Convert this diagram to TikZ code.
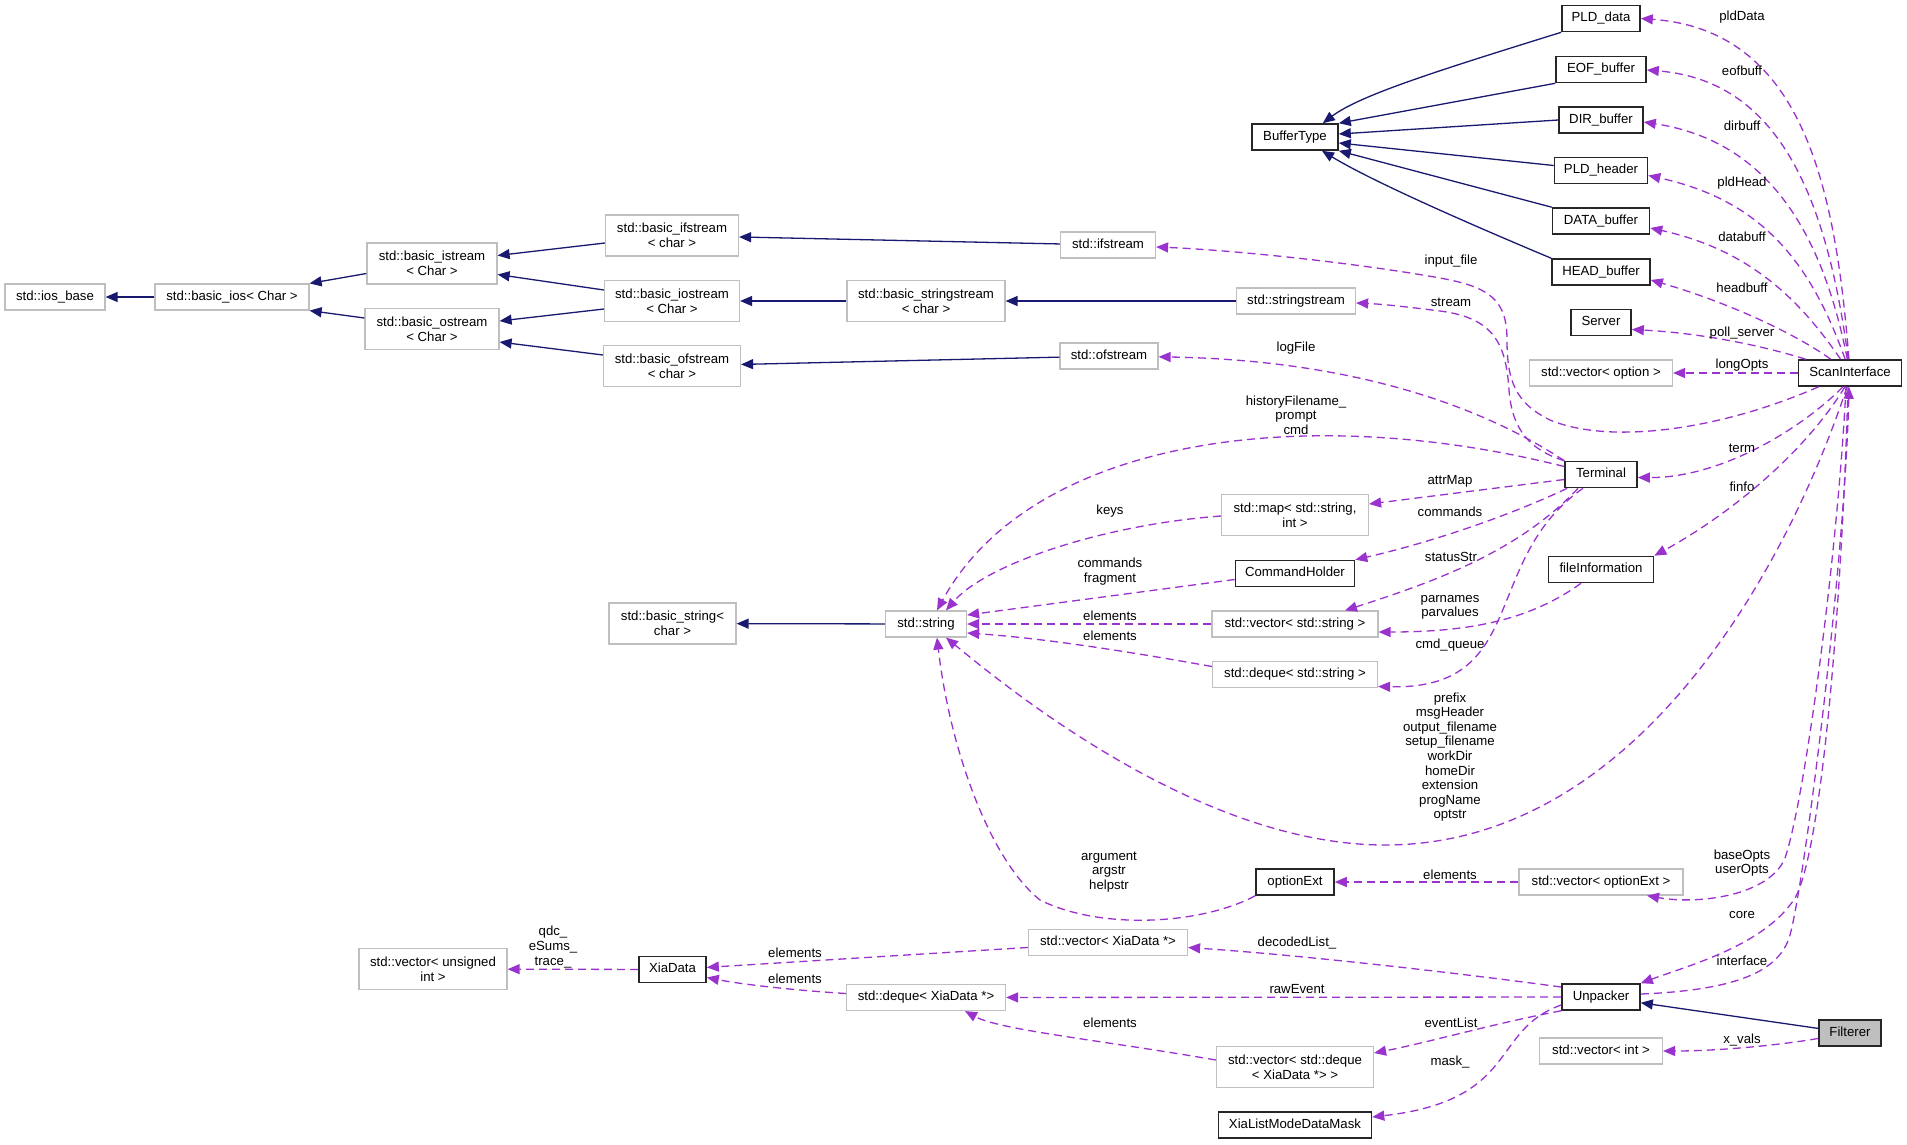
\documentclass[tikz,border=0pt]{standalone}
\usepackage{fontspec}
\setmainfont{Liberation Sans}
\usetikzlibrary{arrows.meta,calc}
\definecolor{midblue}{HTML}{191970}
\definecolor{orchid}{HTML}{9A32CD}
\definecolor{extgrey}{HTML}{BFBFBF}
\definecolor{fillgrey}{HTML}{BFBFBF}
\newcommand{\dfont}{\fontsize{13.2pt}{14.6pt}\selectfont}
\tikzset{
  nodebase/.style={draw, rectangle, font=\dfont, inner xsep=4pt, inner ysep=2pt, line width=1.2pt},
  cls/.style={nodebase, draw=black!85, line width=1.6pt},
  ext/.style={nodebase, draw=extgrey},
  one/.style={minimum height=26pt, text height=9.6pt, text depth=2.8pt},
  two/.style={minimum height=41pt, align=center},
  inherit/.style={draw=midblue, line width=1.3pt, -{Triangle[length=12pt,width=10pt]}},
  usage/.style={draw=orchid, line width=1.3pt, dash pattern=on 8pt off 5pt, -{Triangle[length=12pt,width=10pt]}},
  lbl/.style={font=\dfont, align=center, inner sep=0pt},
}
\begin{document}
\begin{tikzpicture}[x=1pt,y=-1pt]
\fill[white] (0,0) rectangle (1907,1144);
\useasboundingbox (0,0) rectangle (1907,1144);

% ---- nodes ----
\node[ext,one,minimum width=100pt] (iosbase) at (55,297) {std::ios\_base};
\node[ext,one,minimum width=154pt] (basicios) at (232,297) {std::basic\_ios< Char >};
\node[ext,two,minimum width=130pt] (istream) at (432,263.5) {std::basic\_istream\\< Char >};
\node[ext,two,minimum width=134pt] (ostream) at (432,329) {std::basic\_ostream\\< Char >};
\node[ext,two,minimum width=133pt] (ifstream) at (672,235.5) {std::basic\_ifstream\\< char >};
\node[ext,two,minimum width=135pt] (iostream) at (672,301) {std::basic\_iostream\\< Char >};
\node[ext,two,minimum width=137pt] (ofstream) at (672,366) {std::basic\_ofstream\\< char >};
\node[ext,two,minimum width=158pt] (sstream) at (926,301) {std::basic\_stringstream\\< char >};
\node[ext,one,minimum width=95pt] (stdifs) at (1108,245) {std::ifstream};
\node[ext,one,minimum width=119pt] (stdss) at (1296,301) {std::stringstream};
\node[ext,one,minimum width=98pt] (stdofs) at (1109,356) {std::ofstream};
\node[cls,one,minimum width=86pt] (buftype) at (1295,137) {BufferType};
\node[cls,one,minimum width=78pt] (plddata) at (1601,18.5) {PLD\_data};
\node[cls,one,minimum width=90pt] (eofbuf) at (1601,69.5) {EOF\_buffer};
\node[cls,one,minimum width=84pt] (dirbuf) at (1601,120) {DIR\_buffer};
\node[cls,one,minimum width=93pt] (pldhead) at (1601,170.5) {PLD\_header};
\node[cls,one,minimum width=97pt] (databuf) at (1601,221) {DATA\_buffer};
\node[cls,one,minimum width=98pt] (headbuf) at (1601,272) {HEAD\_buffer};
\node[cls,one,minimum width=60pt] (server) at (1601,322.5) {Server};
\node[ext,one,minimum width=143pt] (vecopt) at (1601,373) {std::vector< option >};
\node[cls,one,minimum width=103pt] (scan) at (1850,373) {ScanInterface};
\node[cls,one,minimum width=72pt] (terminal) at (1601,474.5) {Terminal};
\node[ext,two,minimum width=147pt] (strmap) at (1295,515) {std::map< std::string,\\int >};
\node[cls,one,minimum width=119pt] (cmdholder) at (1295,573.5) {CommandHolder};
\node[cls,one,minimum width=105pt] (fileinfo) at (1601,569.5) {fileInformation};
\node[ext,one,minimum width=81pt] (string) at (926,624) {std::string};
\node[ext,two,minimum width=127pt] (basicstring) at (672.5,623.5) {std::basic\_string<\\char >};
\node[ext,one,minimum width=166pt] (vecstring) at (1295,624) {std::vector< std::string >};
\node[ext,one,minimum width=165pt] (dequestring) at (1295,674.5) {std::deque< std::string >};
\node[cls,one,minimum width=78pt] (optionext) at (1295,882) {optionExt};
\node[ext,one,minimum width=164pt] (vecoptext) at (1601,882) {std::vector< optionExt >};
\node[ext,one,minimum width=159pt] (vecxia) at (1108,942.5) {std::vector< XiaData *>};
\node[cls,one,minimum width=67pt] (xiadata) at (672.5,969.5) {XiaData};
\node[ext,two,minimum width=148pt] (vecuint) at (433,969) {std::vector< unsigned\\int >};
\node[ext,one,minimum width=159pt] (dequexia) at (926,997.5) {std::deque< XiaData *>};
\node[cls,one,minimum width=78pt] (unpacker) at (1601,997) {Unpacker};
\node[cls,one,minimum width=62pt,fill=fillgrey] (filterer) at (1850,1033) {Filterer};
\node[ext,one,minimum width=123pt] (vecint) at (1601,1051) {std::vector< int >};
\node[ext,two,minimum width=157pt] (vecdeque) at (1295,1067) {std::vector< std::deque\\< XiaData *> >};
\node[cls,one,minimum width=153pt] (xlmdm) at (1295,1125) {XiaListModeDataMask};

% ---- inheritance ----
\draw[inherit] (basicios) -- (iosbase);
\draw[inherit] ($(istream.west)+(0,10)$) -- (basicios.north east);
\draw[inherit] ($(ostream.west)+(0,-11)$) -- (basicios.south east);
\draw[inherit] ($(ifstream.west)+(0,7.5)$) -- ($(istream.east)+(0,-8)$);
\draw[inherit] ($(iostream.west)+(0,-11)$) -- ($(istream.east)+(0,11)$);
\draw[inherit] ($(iostream.west)+(0,8)$) -- ($(ostream.east)+(0,-8)$);
\draw[inherit] ($(ofstream.west)+(0,-11)$) -- ($(ostream.east)+(0,13)$);
\draw[inherit] (stdifs) -- (ifstream);
\draw[inherit] (sstream) -- (iostream);
\draw[inherit] (stdss) -- (sstream);
\draw[inherit] (stdofs) -- (ofstream);
\draw[inherit] (string) -- (basicstring);
\draw[inherit] (plddata.south west) .. controls (1440,70) and (1360,95) .. ($(buftype.north east)+(-16,0)$);
\draw[inherit] (eofbuf.south west) -- (buftype.north east);
\draw[inherit] (dirbuf.west) -- ($(buftype.east)+(0,-3)$);
\draw[inherit] ($(pldhead.west)+(0,-5)$) -- ($(buftype.east)+(0,6)$);
\draw[inherit] (databuf.north west) -- (buftype.south east);
\draw[inherit] (headbuf.north west) .. controls (1460,220) and (1370,180) .. ($(buftype.south)+(27,0)$);
\draw[inherit] (filterer) -- (unpacker);

% ---- usage ----
\draw[usage] (scan) .. controls (1835,180) and (1800,30) .. (plddata.east);
\draw[usage] (scan) .. controls (1825,180) and (1770,80) .. ($(eofbuf.east)+(0,0.5)$);
\draw[usage] (scan) .. controls (1820,220) and (1760,140) .. ($(dirbuf.east)+(0,2)$);
\draw[usage] (scan) .. controls (1810,260) and (1760,200) .. ($(pldhead.east)+(0,5)$);
\draw[usage] (scan) .. controls (1800,300) and (1750,250) .. ($(databuf.east)+(0,7)$);
\draw[usage] (scan) .. controls (1790,330) and (1720,300) .. ($(headbuf.east)+(0,8)$);
\draw[usage] (scan) .. controls (1760,345) and (1700,333) .. ($(server.east)+(0,7)$);
\draw[usage] (scan) -- (vecopt);
\draw[usage] (scan) .. controls (1720,430) and (1610,445) .. (1550,420)
  .. controls (1515,403) and (1507,380) .. (1507,340)
  .. controls (1507,300) and (1490,287) .. (1440,278)
  .. controls (1350,262) and (1230,250) .. (stdifs);
\draw[usage] (terminal.north west) .. controls (1530,450) and (1512,430) .. (1509,390)
  .. controls (1506,345) and (1495,318) .. (1440,311)
  .. controls (1400,306) and (1380,304) .. ($(stdss.east)+(0,2)$);
\draw[usage] (terminal.north west) .. controls (1480,405) and (1350,360) .. (stdofs);
\draw[usage] ($(terminal.west)+(0,-8)$) .. controls (1300,400) and (1030,440) .. ($(string.north)+(11,0)$);
\draw[usage] ($(terminal.west)+(0,5)$) -- ($(strmap.east)+(0,-11)$);
\draw[usage] ($(strmap.west)+(0,1)$) .. controls (1100,525) and (985,565) .. ($(string.north)+(20,0)$);
\draw[usage] ($(terminal.south west)+(3,0)$) .. controls (1500,520) and (1420,545) .. (cmdholder.north east);
\draw[usage] ($(terminal.south)+(-23,0)$) .. controls (1520,550) and (1440,580) .. ($(vecstring.north)+(50,0)$);
\draw[usage] ($(terminal.south)+(-18,0)$) .. controls (1480,560) and (1530,690) .. ($(dequestring.east)+(0,12)$);
\draw[usage] ($(fileinfo.south)+(-20,0)$) .. controls (1530,620) and (1470,632) .. ($(vecstring.east)+(0,8)$);
\draw[usage] (vecstring) -- (string);
\draw[usage] ($(dequestring.west)+(0,-8)$) .. controls (1120,650) and (1040,638) .. ($(string.east)+(0,9)$);
\draw[usage] ($(cmdholder.west)+(0,6)$) -- ($(string.east)+(0,-9)$);
\draw[usage] ($(scan.south)+(-3,0)$) .. controls (1790,560) and (1640,845) .. (1385,845)
  .. controls (1200,845) and (1010,690) .. ($(string.south)+(20,0)$);
\draw[usage] (optionext.south west) .. controls (1200,925) and (1100,930) .. (1040,900)
  .. controls (990,860) and (950,750) .. ($(string.south)+(11,0)$);
\draw[usage] ($(scan.south)+(-7,0)$) .. controls (1800,430) and (1720,478) .. ($(terminal.east)+(0,3)$);
\draw[usage] ($(scan.south)+(-5,0)$) .. controls (1800,460) and (1720,520) .. (fileinfo.north east);
\draw[usage] ($(scan.south)+(-4,0)$) .. controls (1838,550) and (1805,800) .. (1785,858)
  .. controls (1770,895) and (1700,905) .. ($(vecoptext.south)+(46,0)$);
\draw[usage] ($(scan.south)+(-2,0)$) .. controls (1842,600) and (1822,850) .. (1795,898)
  .. controls (1765,945) and (1690,965) .. (unpacker.north east);
\draw[usage] ($(unpacker.east)+(0,-3)$) .. controls (1740,990) and (1780,970) .. (1790,935)
  .. controls (1805,880) and (1845,560) .. ($(scan.south)+(-1,0)$);
\draw[usage] (filterer) .. controls (1780,1045) and (1720,1051) .. (vecint);
\draw[usage] (vecoptext) -- (optionext);
\draw[usage] ($(unpacker.west)+(0,-10)$) .. controls (1450,972) and (1300,955) .. ($(vecxia.east)+(0,5)$);
\draw[usage] (unpacker) -- (dequexia);
\draw[usage] (unpacker.south west) .. controls (1500,1022) and (1430,1042) .. ($(vecdeque.east)+(0,-14)$);
\draw[usage] ($(unpacker.west)+(0,8)$) .. controls (1490,1030) and (1520,1100) .. ($(xlmdm.east)+(0,-8)$);
\draw[usage] ($(vecdeque.west)+(0,-7)$) .. controls (1100,1040) and (1000,1030) .. ($(dequexia.south)+(39,0)$);
\draw[usage] (vecxia) -- (xiadata);
\draw[usage] ($(dequexia.west)+(0,-4)$) .. controls (790,990) and (740,984) .. ($(xiadata.east)+(0,8)$);
\draw[usage] (xiadata) -- (vecuint);

% ---- labels ----
\node[lbl] (lpld) at (1742,17) {pldData};
\node[lbl] (leof) at (1742,71) {eofbuff};
\node[lbl] (ldir) at (1742,126) {dirbuff};
\node[lbl] (lpldh) at (1742,183) {pldHead};
\node[lbl] (ldata) at (1742,237) {databuff};
\node[lbl] (lhead) at (1742,288) {headbuff};
\node[lbl] (lpoll) at (1742,333) {poll\_server};
\node[lbl] (llong) at (1742,365) {longOpts};
\node[lbl] (linput) at (1451,261) {input\_file};
\node[lbl] (lstream) at (1451,302) {stream};
\node[lbl] (llog) at (1296,348) {logFile};
\node[lbl] (lhist) at (1296,415) {historyFilename\_\\prompt\\cmd};
\node[lbl] (lattr) at (1450,481) {attrMap};
\node[lbl] (lkeys) at (1110,511) {keys};
\node[lbl] (lcmds) at (1450,512) {commands};
\node[lbl] (lstatus) at (1451,557) {statusStr};
\node[lbl] (lcmdfrag) at (1110,571.5) {commands\\fragment};
\node[lbl] (lel1) at (1110,616) {elements};
\node[lbl] (lel2) at (1110,636) {elements};
\node[lbl] (lpar) at (1450,607.5) {parnames\\parvalues};
\node[lbl] (lcmdq) at (1450,645) {cmd\_queue};
\node[lbl] (lterm) at (1742,448) {term};
\node[lbl] (lfinfo) at (1742,487) {finfo};
\node[lbl] (lprefix) at (1450,757) {prefix\\msgHeader\\output\_filename\\setup\_filename\\workDir\\homeDir\\extension\\progName\\optstr};
\node[lbl] (larg) at (1109,872) {argument\\argstr\\helpstr};
\node[lbl] (lel3) at (1450,875) {elements};
\node[lbl] (lbase) at (1742,863) {baseOpts\\userOpts};
\node[lbl] (lcore) at (1742,915) {core};
\node[lbl] (ldecoded) at (1297,943) {decodedList\_};
\node[lbl] (linterface) at (1742,961) {interface};
\node[lbl] (lraw) at (1297,989) {rawEvent};
\node[lbl] (lel4) at (795,953) {elements};
\node[lbl] (lel5) at (795,979) {elements};
\node[lbl] (lel6) at (1110,1023) {elements};
\node[lbl] (levent) at (1451,1023) {eventList};
\node[lbl] (lmask) at (1450,1062) {mask\_};
\node[lbl] (lxvals) at (1742,1040) {x\_vals};
\node[lbl] (lqdc) at (553,947) {qdc\_\\eSums\_\\trace\_};
\end{tikzpicture}
\end{document}
